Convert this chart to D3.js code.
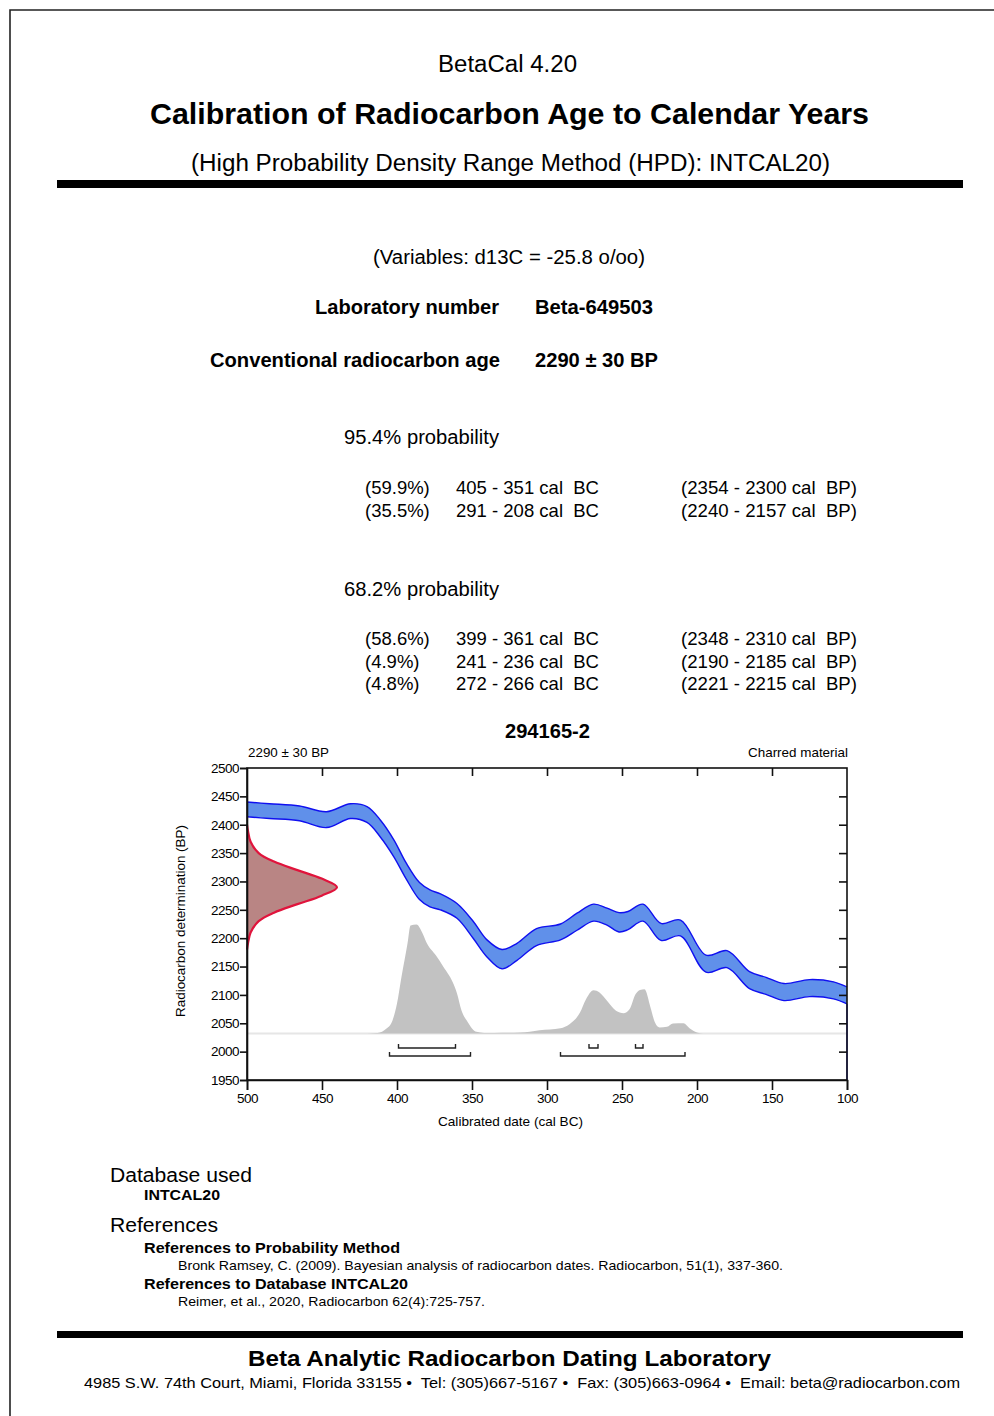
<!DOCTYPE html>
<html>
<head>
<meta charset="utf-8">
<script src="https://cdn.jsdelivr.net/npm/d3@7"></script>
<style>
html,body{margin:0;padding:0;background:#fff;}
svg{display:block;}
text{font-family:"Liberation Sans",Arial,sans-serif;fill:#000;white-space:pre;}
</style>
</head>
<body>
<svg id="page" width="994" height="1416"></svg>
<script>
// ---------------- DATA ----------------
const calYears = [500,485,465,447,431,420,411,402,394,385,378,371,360,349,340,330,320,307,291,280,269,260,252,246,236,224,211,194,180,165,154,142,125,109,100];
const calBP    = [2427,2424,2420,2409,2424,2418,2393,2358,2319,2283,2270,2264,2248,2214,2182,2163,2176,2202,2211,2229,2245,2238,2228,2231,2245,2211,2218,2155,2163,2126,2116,2105,2112,2108,2099];
const calSigma = [13,13,13,14,13,14,15,15,14,15,15,14,13,15,15,17,15,15,14,15,15,15,17,16,15,15,14,15,15,15,15,15,15,15,15];

const radBP      = [2400,2390,2370,2350,2335,2320,2305,2290,2275,2260,2245,2230,2210,2190,2180];
const radDensity = [0,1,4,13,30,56,83,100,83,56,30,13,4,1,0];

const probYears = [420,413,407,403,400,397,393,391,387,383,380,374,369,363,360,357,353,350,347,342,335,318,305,291,285,278,274,269,265,260,254,249,245,241,238,235,231,228,225,220,216,209,205,200,196];
const probValues= [0,0.5,4.5,12,27.5,52,82.5,99,100,92,82.5,71.5,61,47.4,36.7,21,10.7,4.6,1.5,0.5,0.5,0.8,3,4.9,8.5,19.3,31.5,39.7,37.6,30,20.8,18.6,22.3,36,40,40.6,23.9,10,5.5,6.1,9.2,9.4,4.9,0.9,0];

const ranges954 = [[405,351],[291,208]];
const ranges682 = [[399,361],[241,236],[272,266]];

const xTicks = [500,450,400,350,300,250,200,150,100];
const yTicks = [1950,2000,2050,2100,2150,2200,2250,2300,2350,2400,2450,2500];

const rows954 = [["(59.9%)","405 - 351 cal  BC","(2354 - 2300 cal  BP)"],["(35.5%)","291 - 208 cal  BC","(2240 - 2157 cal  BP)"]];
const rows682 = [["(58.6%)","399 - 361 cal  BC","(2348 - 2310 cal  BP)"],["(4.9%)","241 - 236 cal  BC","(2190 - 2185 cal  BP)"],["(4.8%)","272 - 266 cal  BC","(2221 - 2215 cal  BP)"]];

// ---------------- PAGE ----------------
const svg = d3.select("#page");

svg.append("path").attr("d","M10,1416 V10 H994").attr("fill","none").attr("stroke","#222").attr("stroke-width",1.6);

function txt(x,y,s,size,opts={}){
  const t = svg.append("text").attr("x",x).attr("y",y).attr("font-size",size).attr("xml:space","preserve").text(s);
  if(opts.bold) t.attr("font-weight","bold");
  if(opts.anchor) t.attr("text-anchor",opts.anchor);
  if(opts.len) t.attr("textLength",opts.len).attr("lengthAdjust","spacingAndGlyphs");
  return t;
}

txt(438,72,"BetaCal 4.20",23,{len:139});
txt(150,124,"Calibration of Radiocarbon Age to Calendar Years",30,{bold:true,len:719});
txt(191,171,"(High Probability Density Range Method (HPD): INTCAL20)",23,{len:639});
svg.append("rect").attr("x",57).attr("y",180).attr("width",906).attr("height",8).attr("fill","#000");

txt(373,264,"(Variables: d13C = -25.8 o/oo)",20,{len:272});
txt(315,314,"Laboratory number",20,{bold:true,len:184});
txt(535,314,"Beta-649503",20,{bold:true,len:118});
txt(210,367,"Conventional radiocarbon age",20,{bold:true,len:290});
txt(535,367,"2290 ± 30 BP",20,{bold:true,len:123});

txt(344,444,"95.4% probability",20,{len:155});
rows954.forEach((r,i)=>{
  const y = 494 + i*22.5;
  txt(365,y,r[0],18.5); txt(456,y,r[1],18.5,{len:143}); txt(681,y,r[2],18.5,{len:176});
});
txt(344,596,"68.2% probability",20,{len:155});
rows682.forEach((r,i)=>{
  const y = 645 + i*22.5;
  txt(365,y,r[0],18.5); txt(456,y,r[1],18.5,{len:143}); txt(681,y,r[2],18.5,{len:176});
});

txt(505,738,"294165-2",20,{bold:true,len:85});

// ---------------- CHART ----------------
const x = d3.scaleLinear().domain([500,100]).range([247,847]);
const y = d3.scaleLinear().domain([1950,2500]).range([1080,768]);
const baseBP = 2032;
const probScale = d3.scaleLinear().domain([0,100]).range([y(baseBP), y(baseBP)-109]);
const radScale = d3.scaleLinear().domain([0,100]).range([x(500), x(500)+90]);

const g = svg.append("g");

txt(248,757,"2290 ± 30 BP",13.5,{len:81});
txt(748,757,"Charred material",13.5,{len:100});

// baseline of probability plot
g.append("line").attr("x1",x(500)).attr("x2",x(100)).attr("y1",y(baseBP)).attr("y2",y(baseBP))
  .attr("stroke","#e6e6e6").attr("stroke-width",2);

// calibrated probability (gray)
const probData = probYears.map((d,i)=>({yr:d,p:probValues[i]}));
g.append("path").datum(probData)
  .attr("d", d3.area().x(d=>x(d.yr)).y0(probScale(0)).y1(d=>probScale(d.p)).curve(d3.curveMonotoneX))
  .attr("fill","#c2c2c2");

// calibration curve band
const calData = calYears.map((d,i)=>({yr:d,bp:calBP[i],s:calSigma[i]}));
const cr = d3.curveCatmullRom.alpha(0.5);
g.append("path").datum(calData)
  .attr("d", d3.area().x(d=>x(d.yr)).y0(d=>y(d.bp-d.s)).y1(d=>y(d.bp+d.s)).curve(cr))
  .attr("fill","#6090ea");
g.append("path").datum(calData)
  .attr("d", d3.line().x(d=>x(d.yr)).y(d=>y(d.bp+d.s)).curve(cr))
  .attr("fill","none").attr("stroke","#1010f0").attr("stroke-width",1.4);
g.append("path").datum(calData)
  .attr("d", d3.line().x(d=>x(d.yr)).y(d=>y(d.bp-d.s)).curve(cr))
  .attr("fill","none").attr("stroke","#1010f0").attr("stroke-width",1.4);

// radiocarbon determination (red)
const radData = radBP.map((d,i)=>({bp:d,v:radDensity[i]}));
g.append("path").datum(radData)
  .attr("d", d3.area().y(d=>y(d.bp)).x0(radScale(0)).x1(d=>radScale(d.v)).curve(d3.curveCatmullRom.alpha(0.5)))
  .attr("fill","#b98584");
g.append("path").datum(radData)
  .attr("d", d3.line().y(d=>y(d.bp)).x(d=>radScale(d.v)).curve(d3.curveCatmullRom.alpha(0.5)))
  .attr("fill","none").attr("stroke","#e0143c").attr("stroke-width",2.2);

// HPD range brackets
function brackets(list, yy){
  list.forEach(r=>{
    const x1 = x(r[0]), x2 = x(r[1]);
    g.append("path").attr("d",`M${x1},${yy-4} V${yy} H${x2} V${yy-4}`)
      .attr("fill","none").attr("stroke","#222").attr("stroke-width",1.4);
  });
}
brackets(ranges682, 1048);
brackets(ranges954, 1056);

// right edge blue line below the curve
const last = calData[calData.length-1];
g.append("line").attr("x1",x(100)).attr("x2",x(100)).attr("y1",y(last.bp-last.s)).attr("y2",y(1950))
  .attr("stroke","#3030f0").attr("stroke-width",1.4);

// axes
const fontAx = 13.5;
const axL = g.append("g").attr("transform",`translate(${x(500)},0)`)
  .call(d3.axisLeft(y).tickValues(yTicks).tickSize(7).tickPadding(1).tickFormat(d3.format("d")));
const axB = g.append("g").attr("transform",`translate(0,${y(1950)})`)
  .call(d3.axisBottom(x).tickValues(xTicks).tickSize(10).tickPadding(3).tickFormat(d3.format("d")));
const axT = g.append("g").attr("transform",`translate(0,${y(2500)})`)
  .call(d3.axisTop(x).tickValues(xTicks.slice(1,-1)).tickSize(-8).tickFormat(""));
const axR = g.append("g").attr("transform",`translate(${x(100)},0)`)
  .call(d3.axisRight(y).tickValues(yTicks.slice(1,-1)).tickSize(-8).tickFormat(""));
[axL,axB,axT,axR].forEach(a=>{
  a.selectAll("path").attr("stroke","#111").attr("stroke-width",1.6);
  a.selectAll("line").attr("stroke","#111").attr("stroke-width",1.6);
  a.selectAll("text").attr("font-family",'"Liberation Sans",Arial,sans-serif').attr("font-size",fontAx).attr("fill","#000").attr("letter-spacing",-0.5);
});
axT.select(".domain").remove();
axR.select(".domain").remove();
g.append("rect").attr("x",x(500)).attr("y",y(2500)).attr("width",x(100)-x(500)).attr("height",y(1950)-y(2500))
  .attr("fill","none").attr("stroke","#111").attr("stroke-width",1.6);

txt(438,1126,"Calibrated date (cal BC)",13.5,{len:145});
svg.append("text").attr("transform","translate(185,1017) rotate(-90)").attr("font-size",13)
  .attr("textLength",192).attr("lengthAdjust","spacingAndGlyphs").attr("fill","#333")
  .text("Radiocarbon determination (BP)");

// ---------------- FOOTER ----------------
txt(110,1182,"Database used",20,{len:142});
txt(144,1200,"INTCAL20",14,{bold:true,len:76});
txt(110,1232,"References",20,{len:108});
txt(144,1253,"References to Probability Method",14,{bold:true,len:256});
txt(178,1270,"Bronk Ramsey, C. (2009). Bayesian analysis of radiocarbon dates. Radiocarbon, 51(1), 337-360.",13.5,{len:605});
txt(144,1289,"References to Database INTCAL20",14,{bold:true,len:264});
txt(178,1306,"Reimer, et al., 2020, Radiocarbon 62(4):725-757.",13.5,{len:307});
svg.append("rect").attr("x",57).attr("y",1331).attr("width",906).attr("height",7).attr("fill","#000");
txt(248,1366,"Beta Analytic Radiocarbon Dating Laboratory",22,{bold:true,len:523});
txt(84,1388,"4985 S.W. 74th Court, Miami, Florida 33155 •  Tel: (305)667-5167 •  Fax: (305)663-0964 •  Email: beta@radiocarbon.com",14.5,{len:876});
</script>
</body>
</html>
